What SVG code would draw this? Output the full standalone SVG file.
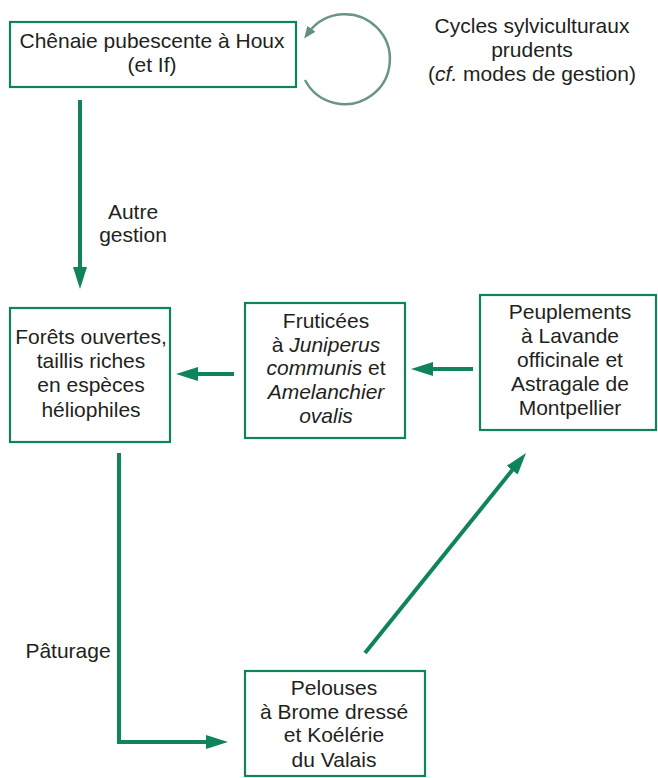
<svg xmlns="http://www.w3.org/2000/svg" width="658" height="778" viewBox="0 0 658 778">
<style>
.box{fill:#fff;stroke:#0f845a;stroke-width:2.2}
.t{font-family:"Liberation Sans",Arial,sans-serif;font-size:21px;fill:#231f20;text-anchor:middle}
.it{font-style:italic}
.con{fill:none;stroke:#0f845a;stroke-width:4}
.cyc{fill:none;stroke:#6a938b;stroke-width:2.5}
</style>
<defs>
<marker id="ah" viewBox="0 0 22 14" markerWidth="22" markerHeight="14" refX="10" refY="7" orient="auto" markerUnits="userSpaceOnUse">
<path d="M0,0 L22,7 L0,14 z" fill="#0f845a"/>
</marker>
<marker id="ahc" viewBox="0 0 12 10" markerWidth="12" markerHeight="10" refX="4" refY="5" orient="auto" markerUnits="userSpaceOnUse">
<path d="M0,0 L12,5 L0,10 z" fill="#5f8f86"/>
</marker>
</defs>
<rect width="658" height="778" fill="#fff"/>
<g id="connectors">
<line class="con" x1="80" y1="100" x2="80" y2="277" marker-end="url(#ah)"/>
<line class="con" x1="234" y1="374" x2="188" y2="374" marker-end="url(#ah)"/>
<line class="con" x1="473" y1="369" x2="423" y2="369" marker-end="url(#ah)"/>
<path class="con" d="M119,453 V742 H216" marker-end="url(#ah)"/>
<line class="con" x1="365" y1="653" x2="518.5" y2="462.3" marker-end="url(#ah)"/>
<path class="cyc" d="M305,80 A45,45 0 1 0 309,32" marker-end="url(#ahc)"/>
</g>
<g id="labels">
<text class="t" x="133" y="219">Autre</text>
<text class="t" x="133" y="242">gestion</text>
<text class="t" x="68" y="658">Pâturage</text>
<text class="t" x="532" y="33">Cycles sylviculturaux</text>
<text class="t" x="532" y="57">prudents</text>
<text class="t" x="532" y="81">(<tspan class="it">cf.</tspan> modes de gestion)</text>
</g>
<g id="chenaie">
<rect class="box" x="10" y="22" width="286" height="65"/>
<text class="t" x="152" y="48">Chênaie pubescente à Houx</text>
<text class="t" x="152" y="72">(et If)</text>
</g>
<g id="forets">
<rect class="box" x="10" y="308" width="160" height="134"/>
<text class="t" x="91" y="344">Forêts ouvertes,</text>
<text class="t" x="91" y="368">taillis riches</text>
<text class="t" x="91" y="392">en espèces</text>
<text class="t" x="91" y="417">héliophiles</text>
</g>
<g id="fruticees">
<rect class="box" x="245" y="303" width="160" height="135"/>
<text class="t" x="326" y="328">Fruticées</text>
<text class="t" x="326" y="352">à <tspan class="it">Juniperus</tspan></text>
<text class="t" x="326" y="375"><tspan class="it">communis</tspan> et</text>
<text class="t it" x="326" y="399">Amelanchier</text>
<text class="t it" x="326" y="423">ovalis</text>
</g>
<g id="peuplements">
<rect class="box" x="480" y="295" width="176" height="135"/>
<text class="t" x="570" y="319">Peuplements</text>
<text class="t" x="570" y="343">à Lavande</text>
<text class="t" x="570" y="367">officinale et</text>
<text class="t" x="570" y="391">Astragale de</text>
<text class="t" x="570" y="415">Montpellier</text>
</g>
<g id="pelouses">
<rect class="box" x="245" y="671" width="180" height="105"/>
<text class="t" x="334" y="695">Pelouses</text>
<text class="t" x="334" y="719">à Brome dressé</text>
<text class="t" x="334" y="742">et Koélérie</text>
<text class="t" x="334" y="767">du Valais</text>
</g>
</svg>
